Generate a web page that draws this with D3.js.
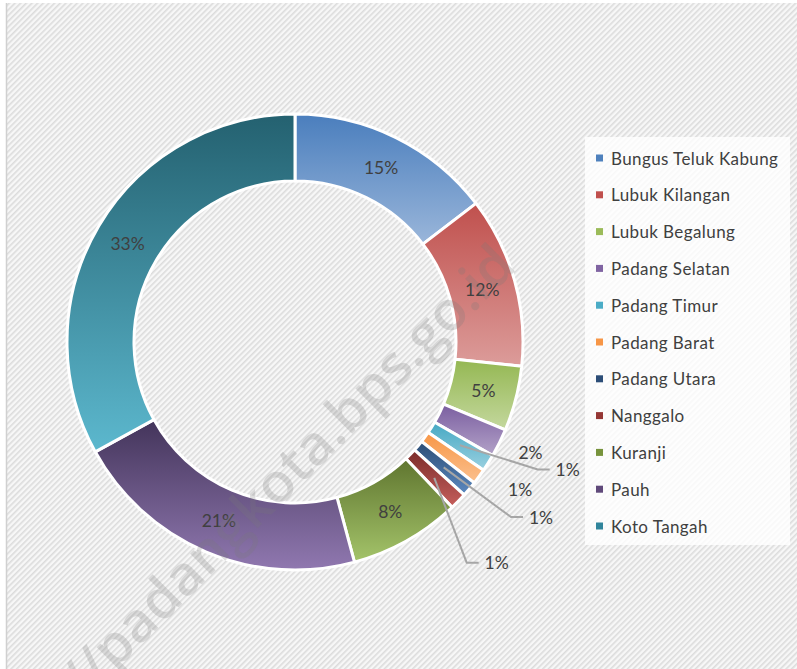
<!DOCTYPE html>
<html>
<head>
<meta charset="utf-8">
<script src="https://cdn.jsdelivr.net/npm/d3@7"></script>
<style>
  body { margin: 0; background: #fff; }
  svg { display: block; }
</style>
</head>
<body>
<svg id="chart"></svg>
<script>
// data (share of each kecamatan, %)
const districts = ["Bungus Teluk Kabung", "Lubuk Kilangan", "Lubuk Begalung", "Padang Selatan",
  "Padang Timur", "Padang Barat", "Padang Utara", "Nanggalo", "Kuranji", "Pauh", "Koto Tangah"];
const shares = [14.6, 12.1, 4.6, 2.0, 1.2, 1.1, 1.1, 1.2, 7.9, 21.2, 33.0];

// gradient top / bottom colours for every slice
const topColors = ["#4a7ebd", "#c0504d", "#94b752", "#7a5ea0", "#45a8c3", "#f79646",
  "#2c4d75", "#7b2c2a", "#5f752f", "#43345a", "#246170"];
const bottomColors = ["#9ab6da", "#dc9c9a", "#c4d89e", "#b3a2c8", "#9ad0e0", "#fbc08e",
  "#5c89c0", "#c65f5c", "#a4c46a", "#9078b0", "#5cb8ce"];
const legendColors = ["#4f81bd", "#c0504d", "#9bbb59", "#8064a2", "#4bacc6", "#f79646",
  "#2c4d77", "#953735", "#77933c", "#5f497a", "#31859c"];

// labels that sit outside the ring (radius, angle shift in degrees, leader line)
const outside = {3: [260, -1.2, false], 4: [301, -7, true], 5: [269, -3, false],
  6: [302, -4.7, true], 7: [299, 3.3, true]};

const width = 797, height = 669;
const cx = 295, cy = 342, outerR = 228, innerR = 161;

const svg = d3.select("#chart").attr("width", width).attr("height", height);
const defs = svg.append("defs");

// diagonal hatch background
const pat = defs.append("pattern").attr("id", "hatch")
  .attr("width", 4).attr("height", 4).attr("patternUnits", "userSpaceOnUse")
  .attr("patternTransform", "rotate(-45)");
pat.append("rect").attr("width", 4).attr("height", 4).attr("fill", "#f7f7f7");
pat.append("rect").attr("width", 4).attr("height", 1.6).attr("fill", "#dcdcdc");

svg.append("rect").attr("width", width).attr("height", height).attr("fill", "#fff");
svg.append("rect").attr("x", 6).attr("y", 3).attr("width", width - 6).attr("height", height - 3)
  .attr("fill", "url(#hatch)");
svg.append("line").attr("x1", 6.5).attr("x2", 6.5).attr("y1", 3).attr("y2", height)
  .attr("stroke", "#d0d0d0").attr("stroke-width", 1.5);

districts.forEach((d, i) => {
  const g = defs.append("linearGradient").attr("id", "grad" + i)
    .attr("x1", 0).attr("y1", 0).attr("x2", 0).attr("y2", 1);
  g.append("stop").attr("offset", "0%").attr("stop-color", topColors[i]);
  g.append("stop").attr("offset", "100%").attr("stop-color", bottomColors[i]);
});

const total = d3.sum(shares);
const pie = d3.pie().sort(null).value(d => d);
const arcs = pie(shares);

const arc = d3.arc().innerRadius(innerR).outerRadius(outerR);
const fmt = d3.format(".0%");

const ring = svg.append("g").attr("transform", `translate(${cx},${cy})`);

ring.selectAll("path.slice")
  .data(arcs)
  .join("path")
    .attr("class", "slice")
    .attr("d", arc)
    .attr("fill", (d, i) => `url(#grad${i})`)
    .attr("stroke", "#fff")
    .attr("stroke-width", 3)
    .attr("stroke-linejoin", "round");

// watermark
svg.append("text")
  .attr("transform", "translate(518,268) rotate(-45)")
  .attr("text-anchor", "end")
  .style("font-family", "'Open Sans', sans-serif")
  .style("font-weight", 600)
  .style("font-size", "55px")
  .attr("fill", "rgba(120,120,120,0.24)")
  .text("https://padangkota.bps.go.id");

// data labels
const labelFont = "Lato, 'Open Sans', sans-serif";
const point = (r, a) => [Math.sin(a) * r, -Math.cos(a) * r];

arcs.forEach((d, i) => {
  const txt = fmt(d.data / total);
  const mid = (d.startAngle + d.endAngle) / 2;
  let pos;
  if (outside[i]) {
    const [r, da, leader] = outside[i];
    pos = point(r, mid + da * Math.PI / 180);
    if (leader) {
      const start = point((innerR + outerR) / 2, mid);
      ring.append("polyline")
        .attr("points", [start, [pos[0] - 30, pos[1]], [pos[0] - 18, pos[1]]].map(p => p.join(",")).join(" "))
        .attr("fill", "none")
        .attr("stroke", "#a6a6a6")
        .attr("stroke-width", 2);
    }
  } else {
    pos = arc.centroid(d);
  }
  ring.append("text")
    .attr("x", pos[0]).attr("y", pos[1])
    .attr("text-anchor", "middle")
    .attr("dominant-baseline", "central")
    .style("font-family", labelFont)
    .style("font-size", "17.5px")
    .attr("fill", "#404040")
    .text(txt);
});

// legend
const legend = svg.append("g").attr("transform", "translate(585,137)");
legend.append("rect").attr("width", 205).attr("height", 408)
  .attr("fill", "#fff").attr("fill-opacity", 0.8);

const rowY = d3.scalePoint().domain(districts).range([21, 389]);
legend.selectAll("rect.key")
  .data(districts)
  .join("rect")
    .attr("class", "key")
    .attr("x", 11).attr("y", d => rowY(d) - 3.5)
    .attr("width", 7).attr("height", 7)
    .attr("fill", (d, i) => legendColors[i]);
legend.selectAll("text.name")
  .data(districts)
  .join("text")
    .attr("class", "name")
    .attr("x", 26).attr("y", d => rowY(d))
    .attr("dominant-baseline", "central")
    .style("font-family", labelFont)
    .style("font-size", "17px")
    .style("letter-spacing", "0.4px")
    .attr("fill", "#404040")
    .text(d => d);
</script>
</body>
</html>
